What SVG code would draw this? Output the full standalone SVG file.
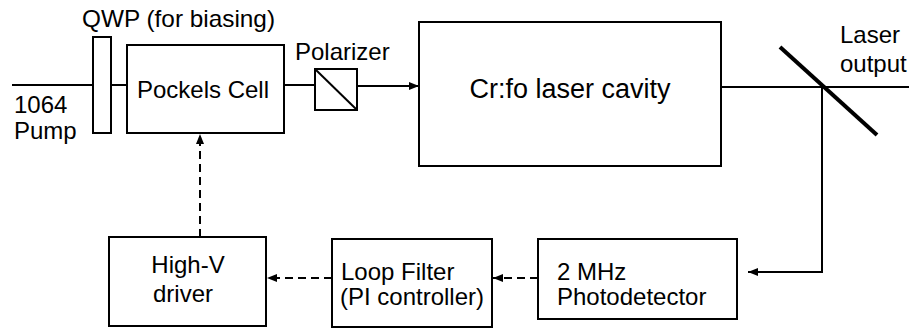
<svg xmlns="http://www.w3.org/2000/svg" width="909" height="329" viewBox="0 0 909 329">
<style>
.box{fill:#fff;stroke:#000;stroke-width:2}
.ln{fill:none;stroke:#000;stroke-width:2}
.dash{fill:none;stroke:#000;stroke-width:2;stroke-dasharray:8 5}
text{font-family:"Liberation Sans",Arial,sans-serif;font-size:24px;fill:#000}
.c{text-anchor:middle}
</style>
<defs>
<marker id="ah" viewBox="0 0 10 10" refX="10" refY="5" markerWidth="10" markerHeight="10" markerUnits="userSpaceOnUse" orient="auto">
<path d="M0,1 L10,5 L0,9 Z" fill="#000"/>
</marker>
</defs>
<rect width="909" height="329" fill="#fff"/>
<g id="connectors">
<line class="ln" x1="12" y1="85" x2="93" y2="85"/>
<line class="ln" x1="111" y1="85" x2="127" y2="85"/>
<line class="ln" x1="284" y1="85" x2="315" y2="85"/>
<line class="ln" x1="357" y1="86" x2="419" y2="86" marker-end="url(#ah)"/>
<line class="ln" x1="721" y1="87" x2="909" y2="87"/>
<polyline class="ln" points="822,87 822,272 748,272" marker-end="url(#ah)"/>
<line class="dash" x1="538" y1="278" x2="493" y2="278" marker-end="url(#ah)"/>
<line class="dash" x1="332" y1="278" x2="267" y2="278" marker-end="url(#ah)"/>
<line class="dash" x1="200" y1="237" x2="200" y2="134" marker-end="url(#ah)"/>
</g>
<g id="pump">
<text x="14" y="113">1064</text>
<text x="14" y="139">Pump</text>
</g>
<g id="qwp">
<rect class="box" x="93" y="37" width="18" height="96"/>
<text x="82" y="27" textLength="193" lengthAdjust="spacingAndGlyphs">QWP (for biasing)</text>
</g>
<g id="pockels">
<rect class="box" x="127" y="45" width="157" height="88"/>
<text class="c" x="203" y="98">Pockels Cell</text>
</g>
<g id="polarizer">
<rect class="box" x="315" y="69" width="42" height="41"/>
<line class="ln" x1="316" y1="70" x2="356" y2="109"/>
<text x="295" y="60">Polarizer</text>
</g>
<g id="cavity">
<rect class="box" x="419" y="22" width="302" height="144"/>
<text class="c" x="570" y="98" style="font-size:27px">Cr:fo laser cavity</text>
</g>
<g id="mirror">
<line x1="780" y1="47" x2="877" y2="135" stroke="#000" stroke-width="4"/>
<text x="840" y="43">Laser</text>
<text x="840" y="72">output</text>
</g>
<g id="highv">
<rect class="box" x="109" y="237" width="157" height="89"/>
<text class="c" x="188" y="273">High-V</text>
<text class="c" x="183" y="302">driver</text>
</g>
<g id="loopfilter">
<rect class="box" x="332" y="239" width="160" height="88"/>
<text x="341" y="280">Loop Filter</text>
<text x="340" y="305">(PI controller)</text>
</g>
<g id="photodetector">
<rect class="box" x="538" y="239" width="199" height="80"/>
<text x="557" y="280">2 MHz</text>
<text x="557" y="305">Photodetector</text>
</g>
</svg>
